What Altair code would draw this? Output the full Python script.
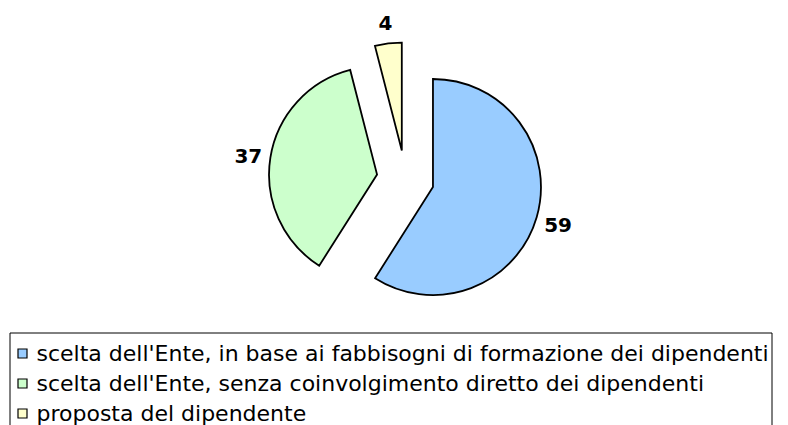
import altair as alt
import pandas as pd

categories = [
    "scelta dell'Ente, in base ai fabbisogni di formazione dei dipendenti",
    "scelta dell'Ente, senza coinvolgimento diretto dei dipendenti",
    "proposta del dipendente",
]
values = [59, 37, 4]
colors = ["#99CCFF", "#CCFFCC", "#FFFFCC"]
order = [0, 1, 2]

df = pd.DataFrame({"category": categories, "value": values, "order": order})

CX, CY = 397.4, 171.0   # pie centre (chart coordinates)
R = 108                 # pie radius
EXPLODE = 28.7          # explosion distance
LABEL_R = 159           # label distance from centre

base = (
    alt.Chart(df)
    .transform_window(cum="sum(value)", sort=[alt.SortField("order")], frame=[None, 0])
    .transform_joinaggregate(total="sum(value)")
    .transform_calculate(t0="2*PI*(datum.cum - datum.value)/datum.total")
    .transform_calculate(t1="2*PI*datum.cum/datum.total")
    .transform_calculate(mid="(datum.t0 + datum.t1)/2")
    .transform_calculate(cx=f"{CX} + {EXPLODE}*sin(datum.mid)")
    .transform_calculate(cy=f"{CY} - {EXPLODE}*cos(datum.mid)")
    .transform_calculate(lx=f"{CX} + {LABEL_R}*sin(datum.mid)")
    .transform_calculate(ly=f"{CY} - {LABEL_R}*cos(datum.mid)")
)

arcs = base.mark_arc(stroke="black", strokeWidth=1.8, radius=R, strokeJoin="miter").encode(
    x=alt.X("cx:Q", scale=None, axis=None),
    y=alt.Y("cy:Q", scale=None, axis=None),
    theta=alt.Theta("t0:Q", scale=None, stack=False),
    theta2="t1:Q",
    color=alt.Color(
        "category:N",
        scale=alt.Scale(domain=categories, range=colors),
        sort=categories,
        legend=alt.Legend(
            title=" ",
            labelExpr="datum.label + '\u00a0\u00a0\u00a0\u00a0\u00a0\u00a0\u00a0\u00a0'",
        ),
    ),
)

labels = base.mark_text(
    font="DejaVu Sans", fontWeight="bold", fontSize=20, align="center", baseline="middle",
    color="black", dy=3,
).encode(
    x=alt.X("lx:Q", scale=None, axis=None),
    y=alt.Y("ly:Q", scale=None, axis=None),
    text=alt.Text("value:Q"),
)

chart = (
    alt.layer(arcs, labels)
    .properties(width=772, height=417, autosize=alt.AutoSizeParams(type="none"), padding=0)
    .configure_view(stroke=None)
    .configure_legend(
        orient="none",
        legendX=1.5,
        legendY=324.5,
        strokeColor="black",
        padding=2,
        titleFontSize=1,
        titlePadding=7,
        symbolType="square",
        symbolSize=81,
        symbolStrokeColor="black",
        symbolStrokeWidth=1.2,
        symbolOpacity=1,
        labelFont="DejaVu Sans",
        labelFontSize=22,
        labelColor="black",
        labelOffset=3,
        labelLimit=2000,
        rowPadding=8,
    )
)

chart.save("out.html", embed_options={"renderer": "svg", "actions": False})
